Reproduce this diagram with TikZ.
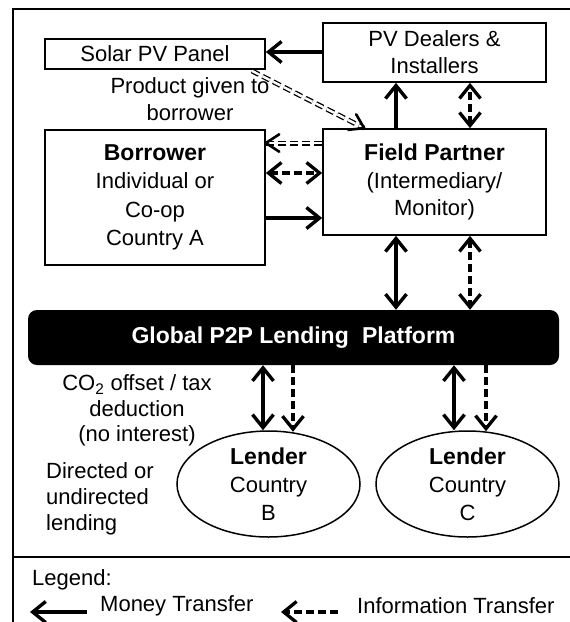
\documentclass[tikz,border=0pt]{standalone}
\usepackage{fontspec}
\setmainfont{Liberation Sans}
\usetikzlibrary{arrows.meta,shapes.geometric,calc}
\begin{document}
\begin{tikzpicture}[x=1pt,y=-1pt,
  >={Straight Barb[length=13pt,width=21pt]},
  every node/.style={font=\fontsize{22}{28}\selectfont, inner sep=0pt},
  box/.style={draw, line width=1.7pt, rectangle, align=center},
  lend/.style={draw, line width=1.5pt, ellipse, minimum width=183pt, minimum height=106pt},
  money/.style={line width=3.4pt, ->},
  moneyboth/.style={line width=3.4pt, <->},
  info/.style={line width=3.3pt, dash pattern=on 8pt off 4pt, ->},
  infoboth/.style={line width=3.3pt, dash pattern=on 8pt off 4pt, <->},
  prod/.style={double, double distance=2.4pt, line width=1.3pt, dash pattern=on 8pt off 4pt},
  prodhead/.style={line width=2.6pt, line cap=round, line join=round},
  frame/.style={line width=1.7pt}
]
\useasboundingbox (0,0) rectangle (570,622);
% frame
\draw[frame] (13,624) -- (13,9) -- (572,9);
\draw[frame] (13,557) -- (572,557);

% boxes
\node[box, minimum width=220pt, minimum height=30pt] (so) at (155,54) {Solar PV Panel};
\node[box, minimum width=223pt, minimum height=59pt, font=\fontsize{22}{27}\selectfont] (dl) at (434.5,52.5) {PV Dealers \&\\Installers};
\node[box, minimum width=220pt, minimum height=135pt, font=\fontsize{22}{28.5}\selectfont] (bo) at (155,197.5) {{\fontsize{23}{28.5}\selectfont\bfseries Borrower}\\Individual or\\Co-op\\Country A};
\node[box, minimum width=223pt, minimum height=106pt, font=\fontsize{22}{27.5}\selectfont] (fp) at (434.5,182) {{\fontsize{23}{27.5}\selectfont\bfseries Field Partner}\\(Intermediary/\\Monitor)};
\node[fill=black, rounded corners=9pt, minimum width=531pt, minimum height=55pt, text=white, font=\fontsize{23}{28}\selectfont\bfseries] (pl) at (293.5,337.5) {Global P2P Lending\hspace{0.3em} Platform};
\node[lend, label={[align=center, font=\fontsize{22}{28}\selectfont]center:{{\fontsize{23}{28}\selectfont\bfseries Lender}\\Country\\B}}] (lb) at (268.5,484) {};
\node[lend, label={[align=center, font=\fontsize{22}{28}\selectfont]center:{{\fontsize{23}{28}\selectfont\bfseries Lender}\\Country\\C}}] (lc) at (467.5,484) {};

% free texts
\node[align=center, font=\fontsize{22}{27}\selectfont] (pt) at (190,99.5) {Product given to\\borrower};
\node[align=center, font=\fontsize{22}{25.5}\selectfont] (co) at (137,410.5) {CO\textsubscript{2} offset / tax\\deduction\\(no interest)};
\node[align=left, anchor=west, font=\fontsize{22}{26}\selectfont] (dir) at (46,499) {Directed or\\undirected\\lending};

% connectors
\draw[money] (dl.west |- 0,52) -- (so.east |- 0,52);
\coordinate (ps) at ([xshift=-14pt,yshift=-1pt]so.south east);
\coordinate (pe) at ([xshift=42pt]fp.north west);
\draw[prod] (ps) -- (pe);
\draw[prodhead] ($(pe)!16pt!33:(ps)$) -- (pe) -- ($(pe)!16pt!-33:(ps)$);

\coordinate (qs) at (fp.west |- 0,143);
\coordinate (qe) at (bo.east |- 0,143);
\draw[prod] (qs) -- (qe);
\draw[prodhead] ($(qe)!16pt!33:(qs)$) -- (qe) -- ($(qe)!16pt!-33:(qs)$);

\draw[infoboth] (bo.east |- 0,173) -- (fp.west |- 0,173);
\draw[money] (bo.east |- 0,218) -- (fp.west |- 0,218);

\draw[money] (fp.north -| 396,0) -- (dl.south -| 396,0);
\draw[infoboth] (fp.north -| 470,0) -- (dl.south -| 470,0);

\draw[moneyboth] (fp.south -| 396,0) -- (pl.north -| 396,0);
\draw[infoboth] (fp.south -| 470,0) -- (pl.north -| 470,0);

\draw[moneyboth] (pl.south -| 263,0) -- (lb.north -| 263,0);
\draw[info] (pl.south -| 293,0) -- ([yshift=-1.5pt]lb.north -| 293,0);
\draw[moneyboth] (pl.south -| 454,0) -- (lc.north -| 454,0);
\draw[info] (pl.south -| 486,0) -- ([yshift=-1pt]lc.north -| 486,0);

% legend
\node[anchor=west] (lg) at (32,580) {Legend:};
\coordinate (m1) at (87,612);
\coordinate (m2) at (30,612);
\draw[money] (m1) -- (m2);
\node[anchor=west] (mt) at (100,606) {Money Transfer};
\coordinate (i1) at (338,612);
\coordinate (i2) at (281,612);
\draw[info] (i1) -- (i2);
\node[anchor=west] (it) at (357,606) {Information Transfer};
\end{tikzpicture}
\end{document}
